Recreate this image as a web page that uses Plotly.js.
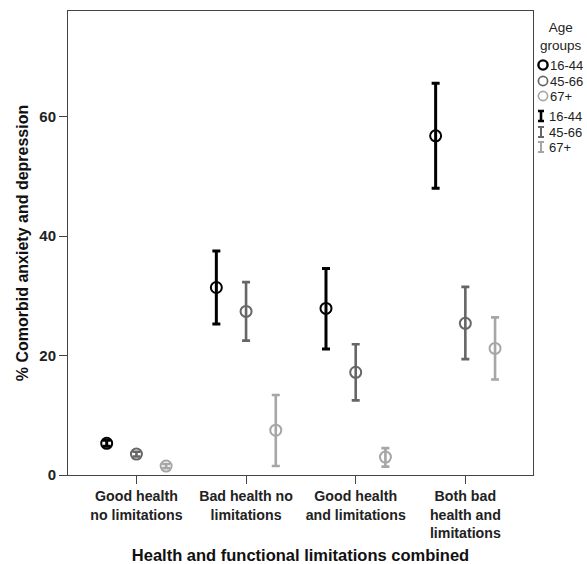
<!DOCTYPE html>
<html>
<head>
<meta charset="utf-8">
<script src="https://cdn.plot.ly/plotly-3.0.1.min.js"></script>
<style>html,body{margin:0;padding:0;background:#fff;}#chart{width:587px;height:564px;}</style>
</head>
<body>
<div id="chart"></div>
<script>
const categories = ["Good health<br>no limitations", "Bad health no<br>limitations", "Good health<br>and limitations", "Both bad<br>health and<br>limitations"];
const ageGroups = ["16-44", "45-66", "67+"];
const mean16 = [5.3, 31.4, 27.9, 56.8];
const upper16 = [5.8, 37.5, 34.6, 65.6];
const lower16 = [4.8, 25.3, 21.1, 48.0];
const mean45 = [3.5, 27.4, 17.2, 25.4];
const upper45 = [3.9, 32.3, 21.9, 31.5];
const lower45 = [3.1, 22.5, 12.5, 19.4];
const mean67 = [1.5, 7.5, 3.0, 21.2];
const upper67 = [1.85, 13.4, 4.5, 26.4];
const lower67 = [1.15, 1.5, 1.4, 16.0];
const yTicks = [0, 20, 40, 60];

const colors = ["#000000", "#666666", "#a6a6a6"];
const offsets = [-0.271, 0, 0.271];
const series = [[mean16, upper16, lower16], [mean45, upper45, lower45], [mean67, upper67, lower67]];

const traces = series.map((s, i) => {
  const [m, up, lo] = s;
  return {
    type: 'scatter', mode: 'markers', name: ageGroups[i], showlegend: false,
    x: categories.map((_, j) => j + offsets[i]),
    y: m,
    marker: {symbol: 'circle-open', size: 11, color: colors[i], line: {width: 2, color: colors[i]}},
    error_y: {type: 'data', symmetric: false,
      array: up.map((v, j) => v - m[j]), arrayminus: lo.map((v, j) => m[j] - v),
      color: colors[i], thickness: i === 0 ? 3 : 2.6, width: 4}
  };
});

const font = "Liberation Sans, Arial, sans-serif";
const px = v => (v - 68) / 465;
const py = v => (475 - v) / 464;

const shapes = [];
const annotations = [
  {xref: 'paper', yref: 'paper', x: px(561), y: py(36), text: 'Age<br>groups', showarrow: false,
   xanchor: 'center', yanchor: 'middle', font: {family: font, size: 13.5, color: '#222'}}
];
const circY = [65, 81, 96];
const beamY = [116, 132, 147];
ageGroups.forEach((g, i) => {
  shapes.push({type: 'circle', xref: 'paper', yref: 'paper', xsizemode: 'pixel', ysizemode: 'pixel',
    xanchor: px(543), yanchor: py(circY[i]), x0: -4.6, x1: 4.6, y0: -4.6, y1: 4.6,
    line: {color: colors[i], width: i === 0 ? 2.4 : 1.7}});
  annotations.push({xref: 'paper', yref: 'paper', x: px(548), y: py(circY[i]), text: g, showarrow: false,
    xanchor: 'left', yanchor: 'middle', font: {family: font, size: 13, color: '#222'}});
  shapes.push({type: 'path', xref: 'paper', yref: 'paper', xsizemode: 'pixel', ysizemode: 'pixel',
    xanchor: px(541), yanchor: py(beamY[i]), path: 'M-3,-5 H3 M0,-5 V5 M-3,5 H3',
    line: {color: colors[i], width: i === 0 ? 2.6 : 2}});
  annotations.push({xref: 'paper', yref: 'paper', x: px(547), y: py(beamY[i]), text: g, showarrow: false,
    xanchor: 'left', yanchor: 'middle', font: {family: font, size: 13, color: '#222'}});
});

const layout = {
  width: 587, height: 564,
  margin: {l: 68, r: 54, t: 11, b: 89},
  paper_bgcolor: '#fff', plot_bgcolor: '#fff',
  showlegend: false,
  xaxis: {
    range: [-0.624, 3.617], tickmode: 'array', tickvals: categories.map((_, j) => j), ticktext: categories,
    showgrid: false, zeroline: false, showline: true, mirror: true, linecolor: '#444', linewidth: 1,
    ticks: 'outside', ticklen: 8, tickcolor: '#444',
    tickfont: {family: font, size: 14.2, color: '#222', weight: 'bold'},
    title: {text: 'Health and functional limitations combined', standoff: 14,
      font: {family: font, size: 16.5, color: '#111', weight: 'bold'}}
  },
  yaxis: {
    range: [0, 77.7], tickvals: yTicks, showgrid: false, zeroline: false,
    showline: true, mirror: true, linecolor: '#444', linewidth: 1,
    ticks: 'outside', ticklen: 8, tickcolor: '#444',
    tickfont: {family: font, size: 15, color: '#222', weight: 'bold'},
    title: {text: '% Comorbid anxiety and depression', standoff: 6,
      font: {family: font, size: 16, color: '#111', weight: 'bold'}}
  },
  shapes: shapes,
  annotations: annotations
};

Plotly.newPlot('chart', traces, layout, {staticPlot: true, displayModeBar: false});
</script>
</body>
</html>
